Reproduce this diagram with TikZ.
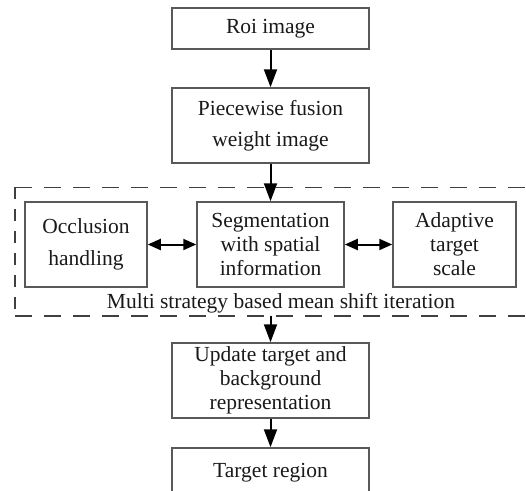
\documentclass[tikz,border=0pt]{standalone}
\usepackage{fontspec}
\setmainfont{Liberation Serif}
\usetikzlibrary{arrows.meta,calc}

\tikzset{
  stepbox/.style={draw=black!65, line width=1.5pt, inner sep=0pt, align=center,
    font=\fontsize{21.5}{24}\selectfont, text=black!90},
  twoline/.style={font=\fontsize{21.5}{31.5}\selectfont},
  flow/.style={line width=2pt, -{Triangle[length=18pt,width=13pt]}},
  both/.style={line width=2pt, {Triangle[length=13pt,width=11pt]}-{Triangle[length=13pt,width=11pt]}},
  group/.style={draw=black!75, line width=1.6pt, dash pattern=on 17pt off 12pt}
}

\begin{document}
\begin{tikzpicture}[x=1pt,y=-1pt]
  \useasboundingbox (0,0) rectangle (526,490);
  \clip (0,0) rectangle (526,490);

  % main column
  \node[stepbox, minimum width=197pt, minimum height=41pt] (roi) at (270.5,28.5) {Roi image};
  \node[stepbox, twoline, minimum width=197pt, minimum height=75pt] (fusion) at (270.5,125.5)
        {Piecewise fusion\\weight image};

  % area of the dashed group around the three strategies
  \node[inner sep=0pt, minimum width=525pt, minimum height=128pt] (frame) at (277.5,251.5) {};
  \draw[group] (frame.north west) -- (frame.north east);
  \draw[group] (frame.south west) -- (frame.south east);
  \draw[group, dash pattern=on 12pt off 10pt] (frame.north west) -- (frame.south west);

  \node[stepbox, twoline, minimum width=122pt, minimum height=85pt] (occ) at (86,244.5)
        {Occlusion\\handling};
  \node[stepbox, minimum width=147pt, minimum height=85pt] (seg) at (270.5,244.5)
        {Segmentation\\with spatial\\information};
  \node[stepbox, minimum width=123pt, minimum height=85pt] (ada) at (454.5,244.5)
        {Adaptive\\target\\scale};
  \node[font=\fontsize{21.5}{24}\selectfont, text=black!90, inner sep=0pt] (lbl) at (281,303)
        {Multi strategy based mean shift iteration};

  \node[stepbox, minimum width=197pt, minimum height=75pt] (upd) at (270.5,380.5)
        {Update target and\\background\\representation};
  \node[stepbox, minimum width=197pt, minimum height=50pt] (tgt) at (270.5,473)
        {Target region};

  % connectors
  \draw[flow] (roi.south) -- (fusion.north);
  \draw[flow] (fusion.south) -- (seg.north);
  \draw[both] (occ.east) -- (seg.west);
  \draw[both] (seg.east) -- (ada.west);
  \draw[flow] (upd.north |- frame.south) -- (upd.north);
  \draw[flow] (upd.south) -- (tgt.north);
\end{tikzpicture}
\end{document}
